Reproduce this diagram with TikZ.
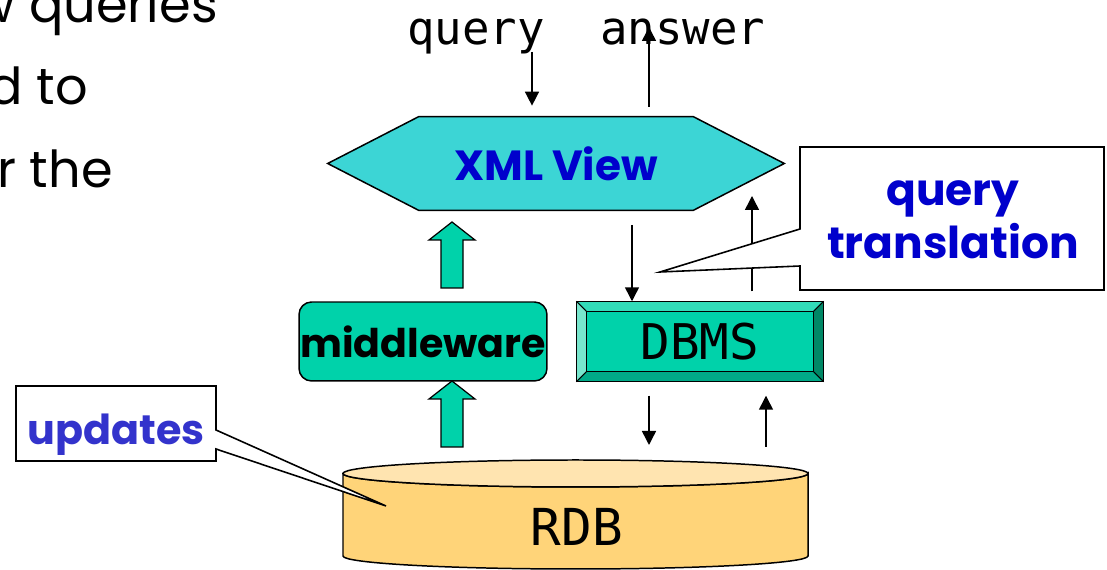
\documentclass[tikz,border=0pt]{standalone}
\usepackage{fontspec}
\setmainfont{Poppins}
\setmonofont{DejaVu Sans Mono}
\usetikzlibrary{arrows.meta,backgrounds}
\definecolor{viewcyan}{RGB}{60,213,213}
\definecolor{mwgreen}{RGB}{0,210,170}
\definecolor{bevlight}{RGB}{120,230,205}
\definecolor{bevtop}{RGB}{50,220,185}
\definecolor{bevlow}{RGB}{0,170,136}
\definecolor{bevdark}{RGB}{0,136,102}
\definecolor{tagblue}{RGB}{0,0,204}
\definecolor{updblue}{RGB}{51,51,204}
\definecolor{dbtop}{RGB}{255,228,176}
\definecolor{dbside}{RGB}{255,212,121}
\tikzset{
  flow/.style={line width=0.85pt,-{Triangle[length=0.28cm,width=0.28cm]}},
  fatarrow/.style={draw,line width=0.7pt,fill=mwgreen},
  callout/.style={draw,line width=0.9pt,fill=white},
  tagtext/.style={font=\fontsize{24}{29}\selectfont\bfseries,align=center,inner sep=0pt},
  monotext/.style={font=\fontsize{26}{30}\selectfont\ttfamily,inner sep=0pt},
  slidetext/.style={font=\fontsize{29}{34}\selectfont,inner sep=0pt,anchor=base east},
}

\begin{document}
\begin{tikzpicture}[x=0.02cm,y=-0.02cm]
\useasboundingbox (0,0) rectangle (1107,570);
\clip (0,0) rectangle (1107,570);

\node[slidetext] (line1) at (218,23) {w queries};
\node[slidetext] (line2) at (88,105) {d to};
\node[slidetext] (line3) at (113,188) {r the};

\node[monotext,anchor=base west] (query) at (407,45) {query};
\node[monotext,anchor=base west] (answer) at (600,45) {answer};

\node[tagtext,text=tagblue,minimum width=9.12cm,minimum height=1.86cm] (view) at (556,163.5) {\raisebox{-0.05cm}{XML View}};
\begin{scope}[on background layer]
\draw[fill=viewcyan,line width=0.85pt] (view.west)
	-- ([xshift=1.82cm]view.north west) -- ([xshift=-1.82cm]view.north east)
	-- (view.east)
	-- ([xshift=-1.82cm]view.south east) -- ([xshift=1.82cm]view.south west) -- cycle;
\end{scope}

\node[draw,fill=mwgreen,line width=0.85pt,rounded corners=0.25cm,minimum width=4.96cm,minimum height=1.58cm,
	inner sep=0pt,font=\fontsize{22.5}{28}\selectfont\bfseries] (mw) at (423,341.5) {middleware};

\node[draw,fill=mwgreen,line width=0.85pt,minimum width=4.92cm,minimum height=1.58cm,
	monotext,font=\fontsize{28}{32}\selectfont\ttfamily] (dbms) at (700,341.5) {DBMS};
\fill[bevtop] (dbms.north west) -- (dbms.north east) -- ([shift={(-10,10)}]dbms.north east) -- ([shift={(10,10)}]dbms.north west) -- cycle;
\fill[bevlight] (dbms.north west) -- (dbms.south west) -- ([shift={(10,-10)}]dbms.south west) -- ([shift={(10,10)}]dbms.north west) -- cycle;
\fill[bevlow] (dbms.south west) -- (dbms.south east) -- ([shift={(-10,-10)}]dbms.south east) -- ([shift={(10,-10)}]dbms.south west) -- cycle;
\fill[bevdark] (dbms.north east) -- (dbms.south east) -- ([shift={(-10,-10)}]dbms.south east) -- ([shift={(-10,10)}]dbms.north east) -- cycle;
\draw[line width=0.85pt] (dbms.north west) rectangle (dbms.south east)
	([shift={(10,10)}]dbms.north west) rectangle ([shift={(-10,-10)}]dbms.south east);
\foreach \c/\d in {north west/{(10,10)}, north east/{(-10,10)}, south west/{(10,-10)}, south east/{(-10,-10)}} {
	\draw[line width=0.6pt] (dbms.\c) -- ([shift=\d]dbms.\c);
}

\foreach \tip in {222,381} {
	\draw[fatarrow] (452,\tip) -- (475,\tip+18) -- (463,\tip+18) -- (463,\tip+66)
		-- (441,\tip+66) -- (441,\tip+18) -- (429,\tip+18) -- cycle;
}

\draw[fill=dbside,line width=0.85pt] (343,473.5) -- (343,556) arc (180:0:232.5 and 13)
	-- (808,473.5) arc (0:180:232.5 and 13.5) -- cycle;
\draw[fill=dbtop,line width=0.85pt] (575.5,473.5) ellipse (232.5 and 13.5);
\node[monotext,font=\fontsize{29}{33}\selectfont\ttfamily] (rdb) at (577,527) {RDB};

\coordinate (qin) at (532,52);
\draw[flow,shorten >=0.22cm] (qin) -- (qin |- view.north);
\coordinate (aout) at (649,27);
\draw[flow,shorten <=0.2cm] (view.north -| aout) -- (aout);
\coordinate (down1) at (632,225);
\draw[flow] (down1) -- (down1 |- dbms.north);
\coordinate (up1) at (752,196);
\draw[flow,shorten <=0.2cm] (dbms.north -| up1) -- (up1);
\coordinate (down2) at (649,445);
\draw[flow,shorten <=0.28cm] (dbms.south -| down2) -- (down2);
\coordinate (up2) at (766,447);
\draw[flow,shorten >=0.28cm] (up2) -- (up2 |- dbms.south);

\draw[callout] (800,229) -- (800,147) -- (1104,147) -- (1104,290) -- (800,290) -- (800,266) -- (660,272) -- cycle;
\node[tagtext,text=tagblue,font=\fontsize{25}{30}\selectfont\bfseries] (qtrans) at (953,220) {query\\translation};

\draw[callout] (216,430) -- (216,386) -- (16,386) -- (16,461) -- (216,461) -- (216,449) -- (386,506) -- cycle;
\node[tagtext,text=updblue,font=\fontsize{23.5}{28}\selectfont\bfseries] (upd) at (116,435) {updates};
\end{tikzpicture}
\end{document}
